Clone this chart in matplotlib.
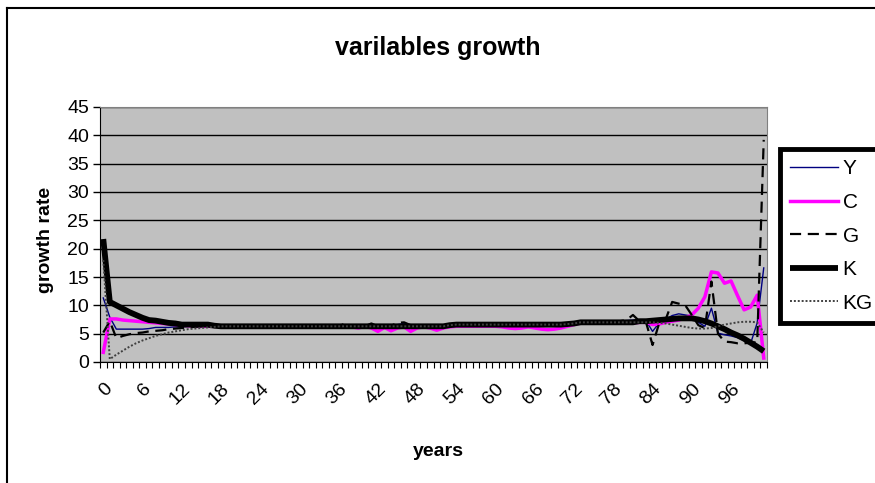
import matplotlib
matplotlib.use("Agg")
import matplotlib.pyplot as plt
from matplotlib.lines import Line2D
import numpy as np

plt.rcParams['font.family'] = ['Liberation Sans', 'DejaVu Sans']

years = list(range(0, 102))
tick_labels = [str(v) for v in range(0, 97, 6)]

Y = [11.3, 7.9, 5.8, 5.8, 5.8, 5.8, 5.8, 5.9, 6.1, 6.1,
     6.1, 6.2, 6.2, 6.3, 6.3, 6.3, 6.3, 6.3, 6.3, 6.3,
     6.3, 6.3, 6.3, 6.3, 6.3, 6.3, 6.3, 6.3, 6.3, 6.3,
     6.3, 6.3, 6.3, 6.3, 6.3, 6.3, 6.3, 6.5, 6.3, 6.3,
     6.4, 6.6, 6.2, 6.3, 6.4, 6.6, 6.8, 6.4, 6.3, 6.4,
     6.3, 6.1, 6.3, 6.5, 6.6, 6.6, 6.6, 6.6, 6.6, 6.6,
     6.6, 6.6, 6.6, 6.6, 6.6, 6.6, 6.6, 6.6, 6.6, 6.6,
     6.6, 6.7, 6.8, 7.0, 7.0, 7.0, 7.0, 7.0, 7.1, 7.2,
     7.3, 7.4, 7.4, 7.3, 5.4, 6.9, 7.5, 8.2, 8.5, 8.3,
     8.1, 7.0, 6.3, 9.5, 5.1, 4.8, 4.6, 4.3, 3.8, 3.3,
     6.9, 16.6]

C = [1.7, 7.6, 7.6, 7.4, 7.3, 7.2, 7.1, 7.0, 6.9, 6.8,
     6.7, 6.6, 6.5, 6.4, 6.3, 6.3, 6.3, 6.3, 6.3, 6.3,
     6.3, 6.3, 6.3, 6.3, 6.3, 6.3, 6.3, 6.3, 6.3, 6.3,
     6.3, 6.3, 6.3, 6.3, 6.3, 6.3, 6.3, 6.3, 6.2, 6.0,
     6.3, 6.0, 5.4, 6.1, 5.5, 6.0, 6.2, 5.4, 6.0, 6.2,
     6.0, 5.6, 6.0, 6.2, 6.3, 6.3, 6.3, 6.3, 6.3, 6.3,
     6.3, 6.2, 6.0, 5.9, 6.0, 6.2, 6.0, 5.8, 5.7, 5.8,
     6.0, 6.3, 6.6, 6.9, 6.9, 6.9, 6.9, 6.9, 6.9, 6.9,
     6.9, 6.9, 7.0, 7.0, 6.6, 6.7, 7.0, 7.2, 7.4, 7.8,
     8.3, 9.5, 11.5, 15.9, 15.7, 13.9, 14.3, 11.7, 9.2, 9.7,
     11.8, 0.7]

G = [5.2, 7.2, 4.2, 4.6, 4.9, 5.1, 5.2, 5.4, 5.5, 5.6,
     5.8, 5.9, 6.0, 6.1, 6.2, 6.3, 6.3, 6.3, 6.3, 6.3,
     6.3, 6.3, 6.3, 6.3, 6.3, 6.3, 6.3, 6.3, 6.3, 6.3,
     6.3, 6.3, 6.3, 6.3, 6.3, 6.3, 6.3, 6.8, 6.3, 6.3,
     6.3, 6.8, 6.3, 6.3, 6.4, 6.9, 7.0, 6.5, 6.3, 6.3,
     6.2, 6.0, 6.4, 6.6, 6.6, 6.6, 6.6, 6.6, 6.6, 6.6,
     6.6, 6.6, 6.6, 6.6, 6.6, 6.6, 6.6, 6.6, 6.6, 6.6,
     6.6, 6.7, 6.8, 7.0, 7.0, 7.0, 7.0, 7.0, 7.1, 7.2,
     7.4, 8.3, 7.2, 7.0, 3.0, 6.8, 7.5, 10.6, 10.3, 10.0,
     8.3, 6.5, 6.0, 14.2, 5.0, 3.6, 3.5, 3.3, 3.3, 3.4,
     3.5, 39.2]

K = [21.7, 10.6, 10.0, 9.4, 8.8, 8.3, 7.8, 7.4, 7.3, 7.1,
     6.9, 6.8, 6.6, 6.6, 6.6, 6.6, 6.6, 6.4, 6.3, 6.3,
     6.3, 6.3, 6.3, 6.3, 6.3, 6.3, 6.3, 6.3, 6.3, 6.3,
     6.3, 6.3, 6.3, 6.3, 6.3, 6.3, 6.3, 6.3, 6.3, 6.3,
     6.3, 6.3, 6.3, 6.3, 6.3, 6.3, 6.3, 6.3, 6.3, 6.3,
     6.3, 6.3, 6.3, 6.5, 6.6, 6.6, 6.6, 6.6, 6.6, 6.6,
     6.6, 6.6, 6.6, 6.6, 6.6, 6.6, 6.6, 6.6, 6.6, 6.6,
     6.6, 6.7, 6.8, 7.0, 7.0, 7.0, 7.0, 7.0, 7.0, 7.0,
     7.0, 7.0, 7.2, 7.2, 7.3, 7.4, 7.5, 7.6, 7.7, 7.7,
     7.7, 7.5, 7.2, 6.8, 6.3, 5.8, 5.2, 4.7, 4.1, 3.4,
     2.7, 1.9]

KG = [18.0, 0.5, 1.3, 2.0, 2.7, 3.3, 3.8, 4.2, 4.6, 4.9,
      5.2, 5.4, 5.6, 5.8, 5.9, 6.0, 6.1, 6.2, 6.3, 6.3,
      6.3, 6.3, 6.3, 6.3, 6.3, 6.3, 6.3, 6.3, 6.3, 6.3,
      6.3, 6.3, 6.3, 6.3, 6.3, 6.3, 6.3, 6.3, 6.3, 6.3,
      6.3, 6.3, 6.3, 6.3, 6.3, 6.3, 6.3, 6.3, 6.3, 6.3,
      6.3, 6.3, 6.3, 6.5, 6.6, 6.6, 6.6, 6.6, 6.6, 6.6,
      6.6, 6.6, 6.6, 6.6, 6.6, 6.6, 6.6, 6.6, 6.6, 6.6,
      6.6, 6.7, 6.8, 7.0, 7.0, 7.0, 7.0, 7.0, 7.0, 7.0,
      7.0, 7.0, 7.0, 7.0, 7.0, 6.9, 6.8, 6.6, 6.4, 6.2,
      6.0, 5.9, 5.9, 6.0, 6.3, 6.6, 6.8, 7.0, 7.1, 7.1,
      7.0, 5.2]

W, H = 875, 483
fig = plt.figure(figsize=(W / 100, H / 100), dpi=100)
fig.patch.set_facecolor('white')

# outer chart border (left & top visible)
fig.add_artist(Line2D([7 / W, 7 / W], [0, 1 - 8 / H], transform=fig.transFigure,
                      color='black', lw=1.5))
fig.add_artist(Line2D([7 / W, 1], [1 - 8 / H, 1 - 8 / H], transform=fig.transFigure,
                      color='black', lw=1.5))

left, right = 100 / W, 767 / W
bottom, top = 1 - 362 / H, 1 - 107 / H
ax = fig.add_axes([left, bottom, right - left, top - bottom])
ax.set_facecolor('#C0C0C0')

x = np.array(years)
ax.plot(x, Y, color='#000080', lw=1.0, label='Y', zorder=3)
ax.plot(x, C, color='#FF00FF', lw=2.5, label='C', zorder=3)
ax.plot(x, G, color='black', lw=1.6, ls=(0, (5, 3)), label='G', zorder=3)
ax.plot(x, K, color='black', lw=4.2, label='K', zorder=3, solid_capstyle='butt')
ax.plot(x, KG, color='#404040', lw=1.4, ls=(0, (1, 1)), label='KG', zorder=3)

ax.set_xlim(-0.5, len(years) - 0.5)
ax.set_ylim(0, 45)
ax.set_yticks(np.arange(0, 46, 5))
ax.yaxis.grid(True, color='black', lw=1.0, zorder=1)
ax.set_axisbelow(True)

label_pos = [years.index(int(t)) for t in tick_labels]
ax.set_xticks(label_pos)
ax.set_xticklabels(tick_labels, rotation=45, ha='right', va='top',
                   rotation_mode='anchor', fontsize=14)
ax.tick_params(axis='x', which='major', length=0, pad=13)
ax.set_xticks(np.arange(-0.5, len(years), 1), minor=True)
ax.tick_params(axis='x', which='minor', length=4, width=0.8, color='black', direction='out')
ax.tick_params(axis='y', length=5, width=1, labelsize=14, pad=3)

for s in ['top', 'right']:
    ax.spines[s].set_color('#808080')
ax.spines['left'].set_color('black')
ax.spines['bottom'].set_color('black')

fig.text(438 / W, 1 - 48 / H, 'varilables growth', ha='center', va='center',
         fontsize=18, fontweight='bold')
fig.text(45 / W, 1 - 240 / H, 'growth rate', ha='center', va='center',
         rotation=90, fontsize=14, fontweight='bold')
fig.text(438 / W, 1 - 452 / H, 'years', ha='center', va='center',
         fontsize=14, fontweight='bold')

leg = ax.legend(loc='upper left', bbox_to_anchor=(780 / W, 1 - 149 / H),
                bbox_transform=fig.transFigure, frameon=True, fancybox=False,
                fontsize=15, handlelength=2.3, handletextpad=0.2,
                labelspacing=0.7, borderpad=0.5, borderaxespad=0)
leg.get_frame().set_edgecolor('black')
leg.get_frame().set_linewidth(3.5)
leg.get_frame().set_facecolor('white')
leg.get_frame().set_alpha(1)

fig.savefig('out.png', dpi=100)
